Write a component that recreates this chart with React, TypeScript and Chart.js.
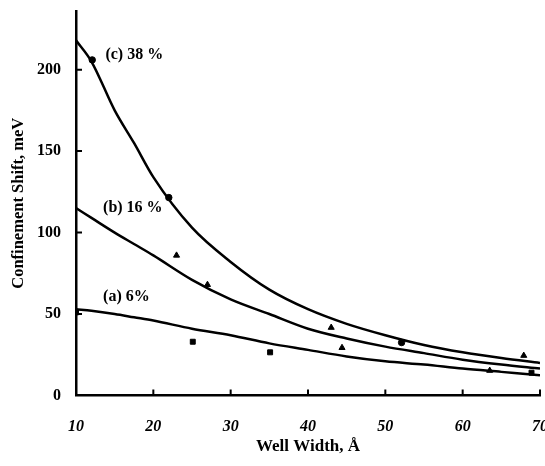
import React, { useEffect, useRef } from "react";
import { Chart, registerables } from "chart.js";

Chart.register(...registerables);

// Fitted curves (well width Å, shift meV)
const curveX = [10, 12, 15, 17.5, 20, 25, 30, 35, 40, 45, 50, 55, 60, 65, 70];
const curveC = [218, 205, 175, 155, 134, 103, 82, 65, 53, 44, 37, 31, 26.5, 23, 20];
const curveB = [115, 109, 100, 93, 86, 71, 59, 50, 41, 35, 30, 26, 22, 19, 16.5];
const curveA = [53, 52, 50, 48, 46, 41, 37, 32, 28, 24, 21, 19, 16.5, 14.5, 12.5];

// Measured points
const circleX = [12.1, 22, 52.1];
const circleY = [206, 121.5, 32.5];
const triX = [23, 27, 43, 44.4, 67.9, 63.5];
const triY = [86, 68, 41.7, 29.3, 24.5, 15.3];
const squareX = [10, 25.1, 35.1, 68.9];
const squareY = [51, 33, 26.5, 14];

const yTickValues = [0, 50, 100, 150, 200];
const xTickValues = [10, 20, 30, 40, 50, 60, 70];

const labels = [
  { text: "(c) 38 %", x: 13.8, y: 209 },
  { text: "(b) 16 %", x: 13.5, y: 115 },
  { text: "(a) 6%", x: 13.5, y: 60.5 },
];

const SERIF = "'Liberation Serif', 'DejaVu Serif', serif";

const zip = (xs: number[], ys: number[]) => xs.map((x, i) => ({ x, y: ys[i] }));

export default function App() {
  const ref = useRef<HTMLCanvasElement | null>(null);

  useEffect(() => {
    document.body.style.margin = "0";
    const canvas = ref.current;
    if (!canvas) return;

    const curveStyle = {
      showLine: true,
      borderColor: "#000",
      borderWidth: 2.5,
      pointRadius: 0,
      cubicInterpolationMode: "monotone" as const,
      fill: false,
    };

    const decor = {
      id: "decor",
      afterDraw(chart: any) {
        const ctx = chart.ctx;
        const xs = chart.scales.x;
        const ys = chart.scales.y;
        ctx.save();
        ctx.strokeStyle = "#000";
        ctx.lineWidth = 2;
        ctx.beginPath();
        for (const v of xTickValues.slice(1)) {
          const px = xs.getPixelForValue(v);
          ctx.moveTo(px, ys.bottom);
          ctx.lineTo(px, ys.bottom - 6);
        }
        for (const v of yTickValues.slice(1)) {
          const py = ys.getPixelForValue(v);
          ctx.moveTo(xs.left, py);
          ctx.lineTo(xs.left + 6, py);
        }
        ctx.stroke();
        ctx.fillStyle = "#000";
        ctx.font = `bold 16px ${SERIF}`;
        ctx.textAlign = "left";
        ctx.textBaseline = "middle";
        for (const l of labels) {
          ctx.fillText(l.text, xs.getPixelForValue(l.x), ys.getPixelForValue(l.y));
        }
        ctx.restore();
      },
    };

    const chart = new Chart(canvas, {
      type: "scatter",
      data: {
        datasets: [
          { ...curveStyle, data: zip(curveX, curveC) },
          { ...curveStyle, data: zip(curveX, curveB) },
          { ...curveStyle, data: zip(curveX, curveA) },
          {
            data: zip(circleX, circleY),
            pointStyle: "circle",
            pointRadius: 3.2,
            backgroundColor: "#000",
            borderColor: "#000",
          },
          {
            data: zip(triX, triY),
            pointStyle: "triangle",
            pointRadius: 3.5,
            backgroundColor: "#000",
            borderColor: "#000",
          },
          {
            data: zip(squareX, squareY),
            pointStyle: "rect",
            pointRadius: 3.5,
            backgroundColor: "#000",
            borderColor: "#000",
          },
        ],
      },
      options: {
        animation: false,
        responsive: false,
        devicePixelRatio: 1,
        layout: { padding: { left: 0, right: 3, top: 11, bottom: 6 } },
        plugins: { legend: { display: false }, tooltip: { enabled: false } },
        scales: {
          x: {
            type: "linear",
            min: 10,
            max: 70,
            afterBuildTicks(s: any) {
              s.ticks = xTickValues.map((v) => ({ value: v }));
            },
            ticks: {
              color: "#000",
              padding: 22,
              maxRotation: 0,
              font: { family: SERIF, size: 16, weight: "bold", style: "italic" },
            },
            grid: { display: false, drawTicks: false },
            border: { display: true, color: "#000", width: 2.5 },
            title: {
              display: true,
              text: "Well Width, Å",
              color: "#000",
              font: { family: SERIF, size: 17, weight: "bold" },
              padding: { top: 0, bottom: 3 },
            },
            afterFit(s: any) {
              s.height = 64.5;
              s.paddingLeft = 0;
              s.paddingRight = 0;
            },
          },
          y: {
            type: "linear",
            min: 0,
            max: 236,
            afterBuildTicks(s: any) {
              s.ticks = yTickValues.map((v) => ({ value: v }));
            },
            ticks: {
              color: "#000",
              padding: 15,
              font: { family: SERIF, size: 16, weight: "bold" },
            },
            grid: { display: false, drawTicks: false },
            border: { display: true, color: "#000", width: 2.5 },
            title: {
              display: true,
              text: "Confinement Shift, meV",
              color: "#000",
              font: { family: SERIF, size: 16.5, weight: "bold" },
              padding: { top: 9, bottom: 0 },
            },
            afterFit(s: any) {
              s.width = 76;
              s.paddingTop = 0;
              s.paddingBottom = 0;
            },
          },
        },
      },
      plugins: [decor],
    } as any);

    return () => chart.destroy();
  }, []);

  return (
    <canvas
      ref={ref}
      width={545}
      height={466}
      style={{ display: "block", width: 545, height: 466 }}
    />
  );
}
